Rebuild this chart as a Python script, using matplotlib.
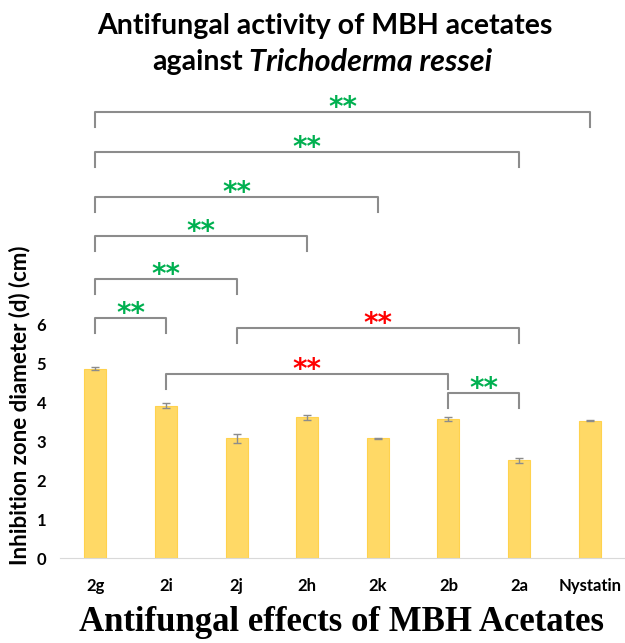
import matplotlib
matplotlib.use("Agg")
import matplotlib.pyplot as plt

plt.rcParams['font.family'] = ['Lato', 'DejaVu Sans']

# bar data
compounds = ["2g", "2i", "2j", "2h", "2k", "2b", "2a", "Nystatin"]
diameter = [4.86, 3.91, 3.07, 3.61, 3.07, 3.57, 2.51, 3.52]
errors = [0.05, 0.06, 0.12, 0.06, 0.01, 0.06, 0.06, 0.01]

# significance brackets: (left bar, right bar), level, colour
pairs = [(0, 7), (0, 6), (0, 4), (0, 3), (0, 2), (0, 1), (2, 6), (1, 5), (5, 6)]
levels = [11.44, 10.41, 9.26, 8.26, 7.15, 6.15, 5.90, 4.72, 4.23]
star_colors = ["#00b050"] * 6 + ["#ff0000", "#ff0000", "#00b050"]

fig = plt.figure(figsize=(6.25, 6.43), dpi=100)
ax = fig.add_axes([0.096, 0.132, 0.904, 0.728])

x = list(range(len(compounds)))
ax.bar(x, diameter, width=0.31, color="#ffd966", edgecolor="#ffd24d", linewidth=0.8,
       yerr=errors, error_kw=dict(ecolor="#8c8c8c", elinewidth=1, capsize=3, capthick=1))

ax.set_xlim(-0.5, 7.5)
ax.set_ylim(0, 12)
ax.set_yticks(range(0, 7))
ax.set_xticks(x)
ax.set_xticklabels(compounds, fontweight="bold", fontsize=12)
for lab in ax.get_yticklabels():
    lab.set_fontweight("bold")
    lab.set_fontsize(12)
ax.tick_params(axis="x", length=0, pad=14)
ax.tick_params(axis="y", length=0, pad=10)
for s in ["top", "right", "left"]:
    ax.spines[s].set_visible(False)
ax.spines["bottom"].set_color("#d9d9d9")

drop = 0.38
for (a, b), lvl, col in zip(pairs, levels, star_colors):
    ax.plot([a, a, b, b], [lvl - drop, lvl, lvl, lvl - drop], color="#8c8c8c", lw=1.5,
            clip_on=False)
    ax.text((a + b) / 2, lvl - 0.25, "**", color=col, fontsize=20, fontweight="bold",
            ha="center", va="bottom", family="DejaVu Sans")

fig.text(0.032, 0.37, "Inhibition zone diameter (d) (cm)", rotation=90, fontsize=16,
         fontweight="bold", ha="center", va="center")

fig.text(0.52, 0.96, "Antifungal activity of MBH acetates", fontsize=20.5,
         fontweight="bold", ha="center", va="center")
fig.text(0.389, 0.903, "against", fontsize=20.5, fontweight="bold", ha="right", va="center")
fig.text(0.398, 0.903, "Trichoderma ressei", fontsize=22, fontweight="bold",
         style="italic", ha="left", va="center")

fig.text(0.547, 0.032, "Antifungal effects of MBH Acetates", fontsize=25,
         fontweight="bold", family="Liberation Serif", ha="center", va="center")

fig.savefig("out.png", dpi=100)
